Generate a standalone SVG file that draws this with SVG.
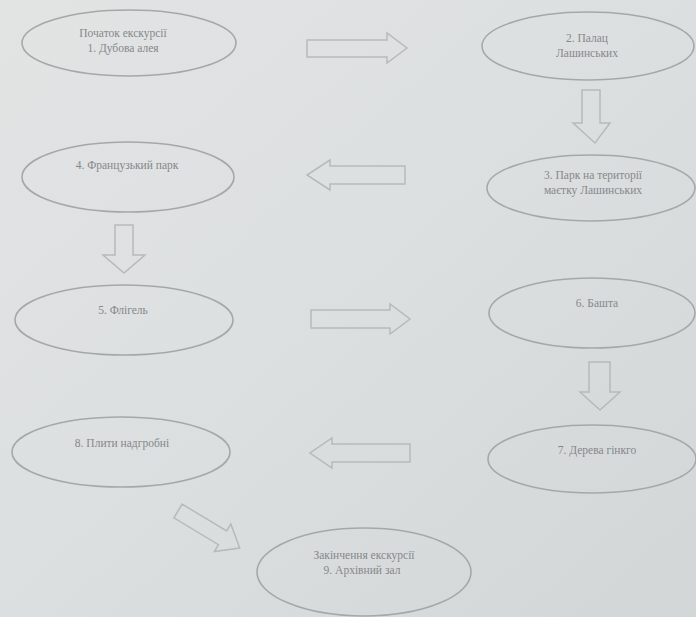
<svg xmlns="http://www.w3.org/2000/svg" width="696" height="617" viewBox="0 0 696 617">
<style>
.n ellipse{fill:none;stroke:#a5a8a9;stroke-width:1.6}
.n text{font-family:"Liberation Serif","DejaVu Serif",serif;font-size:11.5px;fill:#85888a;text-anchor:middle}
.c path{fill:none;stroke:#b6babb;stroke-width:1.5;stroke-linejoin:miter}
</style>
<defs>
<linearGradient id="bg" x1="0" y1="0" x2="1" y2="1">
<stop offset="0" stop-color="#e2e4e4"/>
<stop offset="0.5" stop-color="#dcdfe0"/>
<stop offset="1" stop-color="#d3d6d7"/>
</linearGradient>
</defs>
<rect width="696" height="617" fill="url(#bg)"/>
<g id="connectors" class="c">
<path d="M307 40 H387 V33 L407 48 L387 63 V57 H307 Z"/>
<path d="M582 90 H600 V123 H610 L595 143 L573 123 H582 Z"/>
<path d="M405 166 H330 V160 L307 175 L330 190 V184 H405 Z"/>
<path d="M115 225 H133 V255 H145 L124 273 L103 255 H115 Z"/>
<path d="M311 310 H390 V304 L410 319 L390 334 V328 H311 Z"/>
<path d="M589 362 H610 V392 H620 L600 410 L580 392 H589 Z"/>
<path d="M410 444 H332 V438 L310 453 L332 468 V462 H410 Z"/>
<path d="M0 -8 H52 V-16 L72 0 L52 16 V8 H0 Z" transform="translate(178 511) rotate(31)"/>
</g>
<g id="n1" class="n"><ellipse cx="129" cy="43" rx="107" ry="33"/><text x="123" y="37">Початок екскурсії</text><text x="123" y="52">1. Дубова алея</text></g>
<g id="n2" class="n"><ellipse cx="588" cy="46" rx="106" ry="34"/><text x="587" y="42">2. Палац</text><text x="587" y="57">Лашинських</text></g>
<g id="n3" class="n"><ellipse cx="591" cy="188" rx="104" ry="33"/><text x="593" y="179">3. Парк на території</text><text x="593" y="194">маєтку Лашинських</text></g>
<g id="n4" class="n"><ellipse cx="128" cy="177" rx="106" ry="35"/><text x="127" y="169">4. Французький парк</text></g>
<g id="n5" class="n"><ellipse cx="124" cy="320" rx="109" ry="35"/><text x="123" y="314">5. Флігель</text></g>
<g id="n6" class="n"><ellipse cx="592" cy="313" rx="103" ry="35"/><text x="597" y="307">6. Башта</text></g>
<g id="n7" class="n"><ellipse cx="592" cy="459" rx="104" ry="34"/><text x="597" y="454">7. Дерева гінкго</text></g>
<g id="n8" class="n"><ellipse cx="121" cy="452" rx="109" ry="35"/><text x="122" y="447">8. Плити надгробні</text></g>
<g id="n9" class="n"><ellipse cx="364" cy="572" rx="107" ry="44"/><text x="364" y="559">Закінчення екскурсії</text><text x="362" y="574">9. Архівний зал</text></g>
</svg>
